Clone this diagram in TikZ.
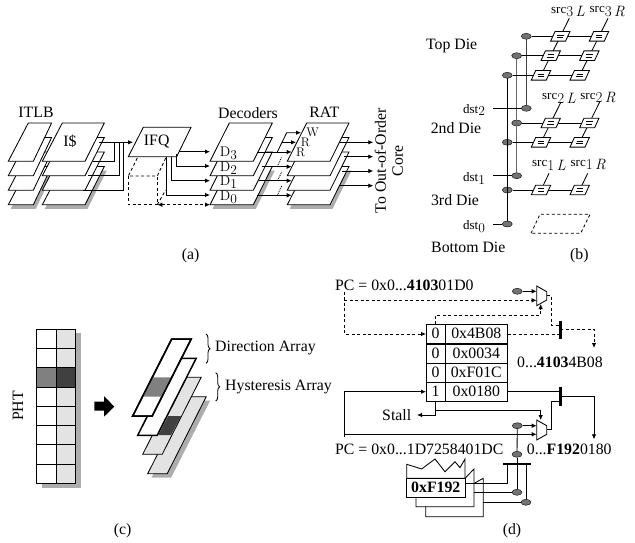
\documentclass[tikz,border=0pt]{standalone}
\usepackage{fontspec}
\setmainfont{Liberation Serif}
\newfontfamily\cmfont{Latin Modern Roman}
\usepackage{xcolor}
\usetikzlibrary{calc, arrows.meta, decorations.pathreplacing, shapes.geometric}

\definecolor{shadowgray}{gray}{0.68}
\definecolor{lightcell}{gray}{0.89}
\definecolor{midcell}{gray}{0.5}
\definecolor{darkcell}{gray}{0.25}
\tikzset{
  tip/.style={-{Latex[length=5pt,width=4.5pt]}},
  wire/.style={line width=0.85pt},
  dotnode/.style={draw=black, fill=black!55, ellipse, minimum width=10pt, minimum height=6pt, inner sep=0pt, line width=0.4pt},
  bar/.style={line width=2.6pt},
  lbl/.style={font=\fontsize{15.8}{17}\selectfont, inner sep=0pt}
}

% four stacked planes: bottom-left, top-left, top-right, bottom-right
\newcommand{\planes}[4]{
  \fill[shadowgray] (#1+2.5,208.8) -- (#2+2.5,170.5) -- (#3+2.5,170.5) -- (#4+2.5,208.8) -- cycle;
  \foreach \dy in {43.5,29,14.5,0}
    \draw[wire, fill=white] (#1,161.3+\dy) -- (#2,123+\dy) -- (#3,123+\dy) -- (#4,161.3+\dy) -- cycle;
}
% small parallelogram cell of the register file
\newcommand{\regcell}[2]{
  \draw[wire, fill=white] (#1-9.7,#2+4.8) -- (#1-5.3,#2-4.8) -- (#1+9.7,#2-4.8) -- (#1+5.3,#2+4.8) -- cycle;
  \draw[line width=0.7pt] (#1-3,#2-1.3) -- (#1+3.4,#2-1.3) (#1-3.4,#2+1.3) -- (#1+3,#2+1.3);
}
% small word with a digit dropped below it
\newcommand{\portname}[2]{{\fontsize{13}{13}\selectfont #1}\raisebox{-2.5pt}{\fontsize{13.5}{13}\cmfont #2}}
\newcommand{\srcname}[2]{\raisebox{3.5pt}{\fontsize{13}{13}\selectfont src}{\fontsize{15}{15}\cmfont #1\,\itshape #2}}
\newcommand{\decname}[1]{{\fontsize{14}{14}\cmfont D}\raisebox{-3pt}{\fontsize{13.5}{13}\cmfont #1}}
% one slanted strip of the split table
\newcommand{\strip}[2]{(#1,#2+77) -- (#1+39,#2) -- (#1+58.5,#2) -- (#1+19.5,#2+77) -- cycle}

\begin{document}
\begin{tikzpicture}[x=1pt, y=-1pt]
  \useasboundingbox (0,0) rectangle (635,543);

  % (a) front end
  \planes{8.3}{28.3}{51.6}{33.3}
  \planes{42.3}{62.3}{104.3}{85}
  \node[lbl] (itlb) at (36,112.7) {ITLB};
  \node[lbl] (icache) at (70,141.7) {I\$};

  \draw[wire, fill=white] (128.3,156.7) -- (143.3,127.3) -- (191,127.3) -- (176.7,156.7) -- cycle;
  \node[lbl] (ifq) at (156.7,141.7) {IFQ};
  \coordinate (ifqin) at (133,142.3);
  \draw[wire, tip] (99,142.3) -- (ifqin);
  \draw[wire] (114.3,142.3) -- (114.3,161.3) -- (93,161.3);
  \draw[wire] (119.3,142.3) -- (119.3,175.8) -- (88,175.8);
  \draw[wire] (123.3,142.3) -- (123.3,190.3) -- (83,190.3);

  % dashed cube under the IFQ
  \draw[wire, dash pattern=on 3pt off 2.5pt] (137.3,158) -- (128.3,176) -- (157.3,176) -- (165.7,158);
  \draw[wire, dash pattern=on 3pt off 2.5pt] (128.3,176) -- (128.3,204.7) -- (157.3,204.7) -- (157.3,176);
  \draw[wire, dash pattern=on 3pt off 2.5pt] (157.3,204.7) -- (165.7,190);
  \draw[wire, dash pattern=on 3pt off 2.5pt, {Latex[length=5pt,width=4.5pt]}-{Latex[length=5pt,width=4.5pt]}] (157.3,204.7) -- (210,204.7);

  \draw[wire, tip] (179,151.7) -- (210,151.7);
  \draw[wire, tip] (176.7,154) -- (176.7,166) -- (210,166);
  \draw[wire, tip] (171,156.7) -- (171,180.7) -- (210,180.7);
  \draw[wire, tip] (166.7,156.7) -- (166.7,195) -- (210,195);

  \planes{210}{229.3}{272.3}{253.3}
  \node[lbl] (decoders) at (248,112.7) {Decoders};
  \node[inner sep=0pt] (dthree) at (228.5,153.5) {\decname{3}};
  \node[inner sep=0pt] (dtwo) at (228.5,168) {\decname{2}};
  \node[inner sep=0pt] (done) at (228.5,182.5) {\decname{1}};
  \node[inner sep=0pt] (dzero) at (228.5,197) {\decname{0}};

  \planes{287.3}{306.7}{349}{330}
  \node[lbl] (rat) at (324.3,112.7) {RAT};
  \node[inner sep=0pt, font=\fontsize{12.5}{13}\cmfont] (wport) at (312.7,132.3) {W};
  \node[inner sep=0pt, font=\fontsize{12.5}{13}\cmfont] (rportb) at (305.3,142.3) {R};
  \node[inner sep=0pt, font=\fontsize{12.5}{13}\cmfont] (rporta) at (300.7,152.3) {R};

  % decoders to RAT
  \draw[wire, tip] (257.3,152) -- (291.7,152);
  \draw[wire, tip] (261.7,166.7) -- (291.7,166.7);
  \draw[wire, tip] (259.3,180.7) -- (291.7,180.7);
  \draw[wire, tip] (257.3,195.3) -- (291.7,195.3);
  \draw[wire, tip] (277.3,152) -- (286.7,132.7) -- (301,132.7);
  \draw[wire, tip] (282,142.3) -- (296,142.3);
  \draw[wire, densely dotted] (277.3,166.7) -- (281.7,157);
  \draw[wire, densely dotted] (277.3,180.7) -- (281.7,172);
  \draw[wire, densely dotted] (277.3,195.3) -- (281.7,186);

  \draw[wire, tip] (340,142.3) -- (373.3,142.3);
  \draw[wire, tip] (344.3,156.7) -- (373.3,156.7);
  \draw[wire, tip] (341.7,171) -- (373.3,171);
  \draw[wire, tip] (340,185.7) -- (373.3,185.7);
  \node[lbl, rotate=90, align=center] (ooo) at (389,160.7) {To Out-of-Order\\Core};
  \node[lbl] (capa) at (190.7,256) {(a)};

  % (b) stacked register file
  \foreach \xa/\xb/\ya/\yb in {541/569.3/75.3/18.3, 579.7/608/75.3/18.3, 541/561/142.3/102, 579.7/599.7/142.3/102, 541/549/190/173.3, 579.7/587.7/190/173.3}
    \draw[wire] (\xa,\ya) -- (\xb,\yb);

  \node[dotnode] (wa) at (526.3,36.3) {};
  \node[dotnode] (wb) at (516.7,55.7) {};
  \node[dotnode] (wc) at (507.3,75.3) {};
  \node[dotnode] (da) at (526.3,108.3) {};
  \node[dotnode] (wd) at (516.7,123) {};
  \node[dotnode] (we) at (507.3,142.3) {};
  \node[dotnode] (db) at (516.7,175.7) {};
  \node[dotnode] (wf) at (507.3,190) {};
  \node[dotnode] (dc) at (507.3,224) {};

  \draw[wire, black!75] (wa) -- (da);
  \draw[wire, black!60] (wb) -- (db);
  \draw[wire] (wc) -- (dc);
  \draw[wire] (wa) -- (599,36.3);
  \draw[wire] (wb) -- (589.3,55.7);
  \draw[wire] (wc) -- (579.7,75.3);
  \draw[wire] (wd) -- (589.3,123);
  \draw[wire] (we) -- (579.7,142.3);
  \draw[wire] (wf) -- (579.7,190);

  \regcell{560.3}{36.3} \regcell{599}{36.3}
  \regcell{550.7}{55.7} \regcell{589.3}{55.7}
  \regcell{541}{75.3} \regcell{579.7}{75.3}
  \regcell{550.7}{123} \regcell{589.3}{123}
  \regcell{541}{142.3} \regcell{579.7}{142.3}
  \regcell{541}{190} \regcell{579.7}{190}
  \draw[wire, dash pattern=on 3pt off 2.5pt] (531,233.3) -- (540,214.3) -- (590,214.3) -- (580.7,233.3) -- cycle;

  \node[inner sep=0pt] (dsttwo) at (474,110) {\portname{dst}{2}};
  \node[inner sep=0pt] (dstone) at (474,178.3) {\portname{dst}{1}};
  \node[inner sep=0pt] (dstzero) at (474,226.7) {\portname{dst}{0}};
  \draw[wire] (493.3,108.3) -- (da);
  \draw[wire] (493.3,175.7) -- (db);
  \draw[wire] (493.3,224) -- (dc);
  \node[inner sep=0pt] (srcthl) at (568,11.5) {\srcname{3}{L}};
  \node[inner sep=0pt] (srcthr) at (607.3,11.5) {\srcname{3}{R}};
  \node[inner sep=0pt] (srctwl) at (559,98) {\srcname{2}{L}};
  \node[inner sep=0pt] (srctwr) at (598,98) {\srcname{2}{R}};
  \node[inner sep=0pt] (srconl) at (549,165) {\srcname{1}{L}};
  \node[inner sep=0pt] (srconr) at (588.3,165) {\srcname{1}{R}};
  \node[lbl] (topdie) at (451.7,46) {Top Die};
  \node[lbl] (seconddie) at (456,127.7) {2nd Die};
  \node[lbl] (thirddie) at (455,200) {3rd Die};
  \node[lbl] (bottomdie) at (468.3,247.7) {Bottom Die};
  \node[lbl] (capb) at (579.3,256) {(b)};

  % (c) split PHT
  \fill[shadowgray] (41.7,333.3) rectangle (80.7,487.8);
  \fill[lightcell] (56.7,329.3) rectangle (75.7,483.3);
  \fill[white] (36.7,329.3) rectangle (56.7,483.3);
  \fill[midcell] (36.7,367.8) rectangle (56.7,387);
  \fill[darkcell] (56.7,367.8) rectangle (75.7,387);
  \foreach \r in {0,...,8}
    \draw[wire] (36.7,329.3+19.25*\r) -- (75.7,329.3+19.25*\r);
  \draw[wire] (75.7,329.3) -- (75.7,483.3);
  \draw[line width=1.4pt] (36.7,329.3) rectangle (56.7,483.3);
  \node[lbl, rotate=90] (pht) at (18,406) {PHT};
  \fill[black] (94.3,401.7) -- (104,401.7) -- (104,396) -- (114.3,406.7) -- (104,416.7) -- (104,410.7) -- (94.3,410.7) -- cycle;

  \fill[shadowgray] \strip{151.7}{400.5};
  \draw[wire, fill=lightcell] \strip{147.7}{396.7};
  \draw[wire, fill=lightcell] \strip{142.7}{377.3};
  \fill[darkcell] (158.3,435) -- (168.3,416) -- (181,416) -- (171,435) -- cycle;
  \draw[line width=1.5pt, fill=white] \strip{137.7}{358.3};
  \draw[line width=1.5pt, fill=white] \strip{132.7}{339};
  \fill[midcell] (142.5,396.7) -- (152.2,377.3) -- (171.7,377.3) -- (162,396.7) -- cycle;
  \draw[line width=1.5pt] \strip{132.7}{339};

  \draw[wire, decorate, decoration={brace, amplitude=4pt}] (206,334) -- (206,363.3);
  \draw[wire, decorate, decoration={brace, amplitude=4pt}] (215.7,372.7) -- (215.7,401);
  \node[lbl, anchor=west] (dirarray) at (215,348.3) {Direction Array};
  \node[lbl, anchor=west] (hysarray) at (225,386.7) {Hysteresis Array};
  \node[lbl] (capc) at (122.7,530.7) {(c)};

  % (d) predicted target cache
  \node[lbl, anchor=west] (pctop) at (335,285.7) {PC = 0x0...\textbf{4103}01D0};
  \node[lbl, anchor=west] (pcbot) at (335,449.3) {PC = 0x0...1D7258401DC};
  \node[lbl, anchor=west] (tgtup) at (517,362.7) {0...\textbf{4103}4B08};
  \node[lbl, anchor=west] (tgtlo) at (526.7,449.3) {0...\textbf{F192}0180};
  \node[lbl] (stall) at (396.7,415) {Stall};

  \foreach \r/\f/\v/\yt in {a/0/0x4B08/324.3, b/0/0x0034/344, c/0/0xF01C/363, d/1/0x0180/382}{
    \draw[wire] (426,\yt) rectangle (445,\yt+19);
    \draw[wire] (445,\yt) rectangle (507.7,\yt+19);
    \node[lbl] (flag\r) at (435.5,\yt+9.5) {\f};
    \node[lbl] (val\r) at (476.3,\yt+9.5) {\v};
  }

  % muxes
  \draw[wire, fill=white] (536.7,286) -- (546.7,291.7) -- (546.7,300) -- (536.7,305.7) -- cycle;
  \draw[wire, fill=white] (536.7,420) -- (546.7,425.7) -- (546.7,434.3) -- (536.7,440) -- cycle;
  \coordinate (muxain) at (536.7,291.3);
  \coordinate (muxbin) at (536.7,425.7);
  \node[dotnode] (pa) at (517.3,291.3) {};
  \node[dotnode] (pb) at (517.3,425.7) {};
  \node[dotnode] (pc) at (517,454.3) {};
  \node[dotnode] (pd) at (517,492.3) {};
  \node[dotnode] (pe) at (526,502.3) {};
  \draw[wire, tip] (pa) -- (muxain);
  \draw[wire, tip] (pb) -- (muxbin);

  % dashed first lookup
  \begin{scope}[dash pattern=on 3pt off 2.5pt]
    \draw[wire, tip] (344.3,291.7) -- (344.3,334) -- (426,334);
    \draw[wire, tip] (344.3,300.3) -- (536.7,300.3);
    \draw[wire, tip] (435.3,324.3) -- (435.3,315) -- (540.7,315) -- (540.7,304);
    \draw[wire] (546.7,295.3) -- (551,295.3) -- (551,325) -- (560,325);
    \draw[wire] (507.7,334) -- (560,334);
    \draw[wire, tip] (560,329.3) -- (594,329.3) -- (594,348);
  \end{scope}
  \draw[bar] (560.3,320.7) -- (560.3,339);

  % solid second lookup
  \draw[wire, tip] (344.3,436.7) -- (344.3,391.7) -- (426,391.7);
  \draw[wire, tip] (344.3,434.3) -- (536.7,434.3);
  \draw[wire] (507.7,391.7) -- (560,391.7);
  \draw[wire] (546.7,429.3) -- (551,429.3) -- (551,401.7) -- (560,401.7);
  \draw[wire, tip] (560,396) -- (594,396) -- (594,439.3);
  \draw[bar] (560.3,387.3) -- (560.3,406);
  \draw[wire, tip] (435.3,400.7) -- (435.3,415) -- (417,415);
  \draw[wire, tip] (435.3,410.7) -- (540.7,410.7) -- (540.7,420);

  % tag array blocks
  \draw[wire, fill=white] (483.3,478.3) -- (483.3,516.7) -- (425.7,516.7) -- (425.7,500) -- (465,488.3) -- cycle;
  \draw[wire, fill=white] (465,478.3) -- (474,469) -- (474,506.7) -- (416,506.7) -- (416,490) -- cycle;
  \draw[wire, fill=white] (406.7,478.3) -- (406.7,464.3) -- (421.7,469) -- (435,459) -- (445,471.7) -- (455,461.7) -- (460,467.7) -- (465,459) -- (465,478.3) -- cycle;
  \node[draw, line width=0.85pt, fill=white, minimum width=58.3pt, minimum height=19pt, inner sep=0pt, font=\fontsize{15.8}{17}\selectfont\bfseries] (tagblock) at (435.8,487.8) {0xF192};

  \draw[wire] (tagblock.east |- 0,483.3) -- (507.7,483.3) -- (507.7,464);
  \draw[wire] (474,492.3) -- (pd);
  \draw[wire] (483.3,502.3) -- (pe);
  \draw[wire] (pb) -- (pc);
  \draw[wire] (pc) -- (pd);
  \draw[wire] (526,464) -- (pe);
  \draw[bar] (503.3,464) -- (531,464);
  \node[lbl] (capd) at (512,531) {(d)};
\end{tikzpicture}
\end{document}
